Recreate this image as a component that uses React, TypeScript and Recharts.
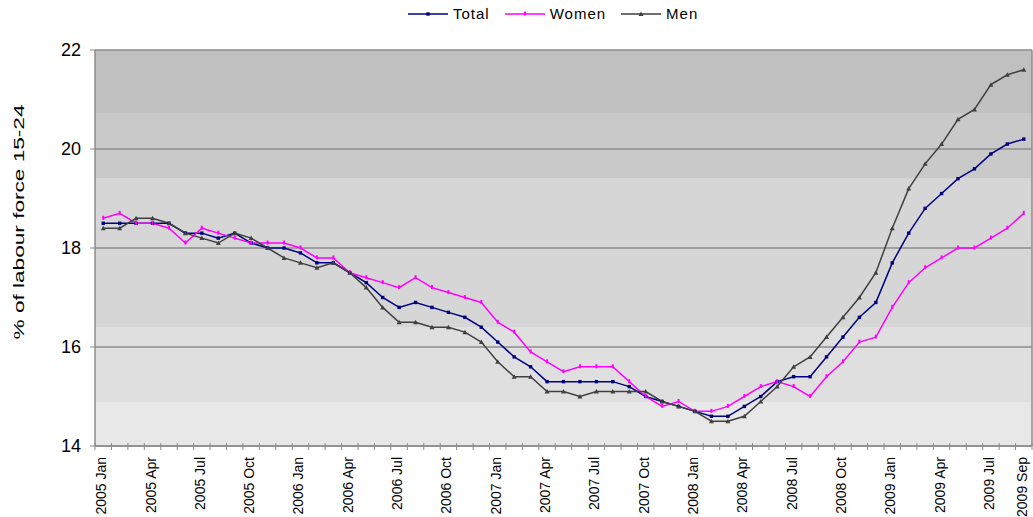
import { LineChart, Line, XAxis, YAxis, CartesianGrid } from 'recharts';

const W = 1033;
const H = 517;
const Y_AXIS_W = 95;
const X_AXIS_H = 71;
const MARGIN = { top: 50, right: 1, bottom: 0, left: 0 };
const FONT = '"Liberation Sans", Arial, sans-serif';
const GRID = '#8c8c8c';
const Y_MIN = 14;
const Y_MAX = 22;

// categories: monthly, 2005 Jan .. 2009 Sep
const years = ['2005', '2006', '2007', '2008', '2009'];
const monthNames = ['Jan', 'Feb', 'Mar', 'Apr', 'May', 'Jun', 'Jul', 'Aug', 'Sep', 'Oct', 'Nov', 'Dec'];
const months = years.flatMap((y) => monthNames.map((m) => `${y} ${m}`)).slice(0, 57);

const labelledMonths = [
  '2005 Jan', '2005 Apr', '2005 Jul', '2005 Oct',
  '2006 Jan', '2006 Apr', '2006 Jul', '2006 Oct',
  '2007 Jan', '2007 Apr', '2007 Jul', '2007 Oct',
  '2008 Jan', '2008 Apr', '2008 Jul', '2008 Oct',
  '2009 Jan', '2009 Apr', '2009 Jul', '2009 Sep',
];

const yTicks = [14, 16, 18, 20, 22];

// % of labour force 15-24
const total = [
  18.5, 18.5, 18.5, 18.5, 18.5, 18.3, 18.3, 18.2, 18.3, 18.1, 18.0, 18.0,
  17.9, 17.7, 17.7, 17.5, 17.3, 17.0, 16.8, 16.9, 16.8, 16.7, 16.6, 16.4,
  16.1, 15.8, 15.6, 15.3, 15.3, 15.3, 15.3, 15.3, 15.2, 15.0, 14.9, 14.8,
  14.7, 14.6, 14.6, 14.8, 15.0, 15.3, 15.4, 15.4, 15.8, 16.2, 16.6, 16.9,
  17.7, 18.3, 18.8, 19.1, 19.4, 19.6, 19.9, 20.1, 20.2,
];
const women = [
  18.6, 18.7, 18.5, 18.5, 18.4, 18.1, 18.4, 18.3, 18.2, 18.1, 18.1, 18.1,
  18.0, 17.8, 17.8, 17.5, 17.4, 17.3, 17.2, 17.4, 17.2, 17.1, 17.0, 16.9,
  16.5, 16.3, 15.9, 15.7, 15.5, 15.6, 15.6, 15.6, 15.3, 15.0, 14.8, 14.9,
  14.7, 14.7, 14.8, 15.0, 15.2, 15.3, 15.2, 15.0, 15.4, 15.7, 16.1, 16.2,
  16.8, 17.3, 17.6, 17.8, 18.0, 18.0, 18.2, 18.4, 18.7,
];
const men = [
  18.4, 18.4, 18.6, 18.6, 18.5, 18.3, 18.2, 18.1, 18.3, 18.2, 18.0, 17.8,
  17.7, 17.6, 17.7, 17.5, 17.2, 16.8, 16.5, 16.5, 16.4, 16.4, 16.3, 16.1,
  15.7, 15.4, 15.4, 15.1, 15.1, 15.0, 15.1, 15.1, 15.1, 15.1, 14.9, 14.8,
  14.7, 14.5, 14.5, 14.6, 14.9, 15.2, 15.6, 15.8, 16.2, 16.6, 17.0, 17.5,
  18.4, 19.2, 19.7, 20.1, 20.6, 20.8, 21.3, 21.5, 21.6,
];

const data = months.map((month, i) => ({
  month,
  total: total[i],
  women: women[i],
  men: men[i],
}));

// grey background bands behind the plot (top to bottom)
const bandEdges = [22, 20.73, 19.41, 16.41, 14.89];
const bandColors = ['#c0c0c0', '#c9c9c9', '#d6d6d6', '#dfdfdf', '#e8e8e8'];

const series = [
  { key: 'total', name: 'Total', color: '#000080', marker: 'square' },
  { key: 'women', name: 'Women', color: '#ff00ff', marker: 'bar' },
  { key: 'men', name: 'Men', color: '#404040', marker: 'triangle' },
];

const STEP = (W - Y_AXIS_W - MARGIN.right) / months.length;

const toPixel = (offset: any, v: number) =>
  offset.top + ((Y_MAX - v) / (Y_MAX - Y_MIN)) * offset.height;

function Marker({ kind, cx, cy, color }: any) {
  if (kind === 'triangle') {
    return <path d={`M${cx - 2.5},${cy + 2} L${cx + 2.5},${cy + 2} L${cx},${cy - 2.5} Z`} fill={color} />;
  }
  if (kind === 'bar') {
    return <rect x={cx - 1} y={cy - 2.5} width={2} height={4} fill={color} />;
  }
  return <rect x={cx - 1.7} y={cy - 1.7} width={3.4} height={3.4} fill={color} />;
}

function MonthTick(props: any) {
  const { x, y, payload, index } = props;
  const half = STEP / 2;
  const label = labelledMonths.includes(payload.value) ? payload.value : null;
  const tx = x + 3;
  const ty = y + 11;
  return (
    <g>
      <line x1={x - half} x2={x - half} y1={y - 3} y2={y + 4} stroke={GRID} />
      {index === months.length - 1 && (
        <line x1={x + half} x2={x + half} y1={y - 3} y2={y + 4} stroke={GRID} />
      )}
      {label && (
        <text
          x={tx}
          y={ty}
          transform={`rotate(-90 ${tx} ${ty})`}
          textAnchor="end"
          fontSize={14}
          fontFamily={FONT}
          fill="#000"
        >
          {label}
        </text>
      )}
    </g>
  );
}

function Legend() {
  return (
    <div
      style={{
        position: 'absolute',
        top: 5,
        left: 408,
        display: 'flex',
        alignItems: 'center',
        fontFamily: FONT,
        fontSize: 15,
        letterSpacing: 1,
        color: '#000',
        lineHeight: '18px',
      }}
    >
      {series.map((s) => (
        <div key={s.key} style={{ display: 'flex', alignItems: 'center', marginRight: 15 }}>
          <svg width={40} height={10} style={{ marginRight: 5 }}>
            <line x1={0} x2={40} y1={5} y2={5} stroke={s.color} strokeWidth={1.5} />
            <Marker kind={s.marker} cx={20} cy={5} color={s.color} />
          </svg>
          <span>{s.name}</span>
        </div>
      ))}
    </div>
  );
}

export default function App() {
  return (
    <div style={{ position: 'absolute', left: 0, top: 0, width: W, height: H, background: '#fff' }}>
      <Legend />
      <LineChart width={W} height={H} data={data} margin={MARGIN}>
        {/* background bands */}
        <CartesianGrid
          vertical={false}
          stroke="none"
          horizontalFill={bandColors}
          fillOpacity={1}
          horizontalCoordinatesGenerator={({ offset }: any) => bandEdges.map((v) => toPixel(offset, v))}
        />
        {/* grid lines + right border */}
        <CartesianGrid
          stroke={GRID}
          strokeWidth={1.5}
          horizontalCoordinatesGenerator={({ offset }: any) => yTicks.map((v) => toPixel(offset, v))}
          verticalCoordinatesGenerator={({ offset }: any) => [offset.left + offset.width]}
        />

        <XAxis
          dataKey="month"
          interval={0}
          height={X_AXIS_H}
          padding={{ left: STEP / 2, right: STEP / 2 }}
          tickSize={0}
          tickMargin={0}
          tickLine={false}
          axisLine={{ stroke: GRID, strokeWidth: 1.5 }}
          tick={<MonthTick />}
        />
        <YAxis
          width={Y_AXIS_W}
          domain={[Y_MIN, Y_MAX]}
          ticks={yTicks}
          interval={0}
          tickSize={5}
          tickMargin={9}
          tickLine={{ stroke: GRID }}
          axisLine={{ stroke: GRID, strokeWidth: 1.5 }}
          tick={{ fontSize: 18, fill: '#000', fontFamily: FONT }}
          label={{
            content: ({ viewBox }: any) => {
              const lx = 24;
              const ly = viewBox.y + viewBox.height / 2 - 26;
              return (
                <text
                  x={lx}
                  y={ly}
                  transform={`rotate(-90 ${lx} ${ly})`}
                  textAnchor="middle"
                  fontSize={14}
                  textLength={235}
                  lengthAdjust="spacingAndGlyphs"
                  fontFamily={FONT}
                  fill="#000"
                >
                  % of labour force 15-24
                </text>
              );
            },
          }}
        />

        {series.map((s) => (
          <Line
            key={s.key}
            type="linear"
            dataKey={s.key}
            name={s.name}
            stroke={s.color}
            strokeWidth={1.5}
            isAnimationActive={false}
            activeDot={false}
            dot={(p: any) => <Marker key={`${s.key}-${p.index}`} kind={s.marker} cx={p.cx} cy={p.cy} color={s.color} />}
          />
        ))}
      </LineChart>
    </div>
  );
}
